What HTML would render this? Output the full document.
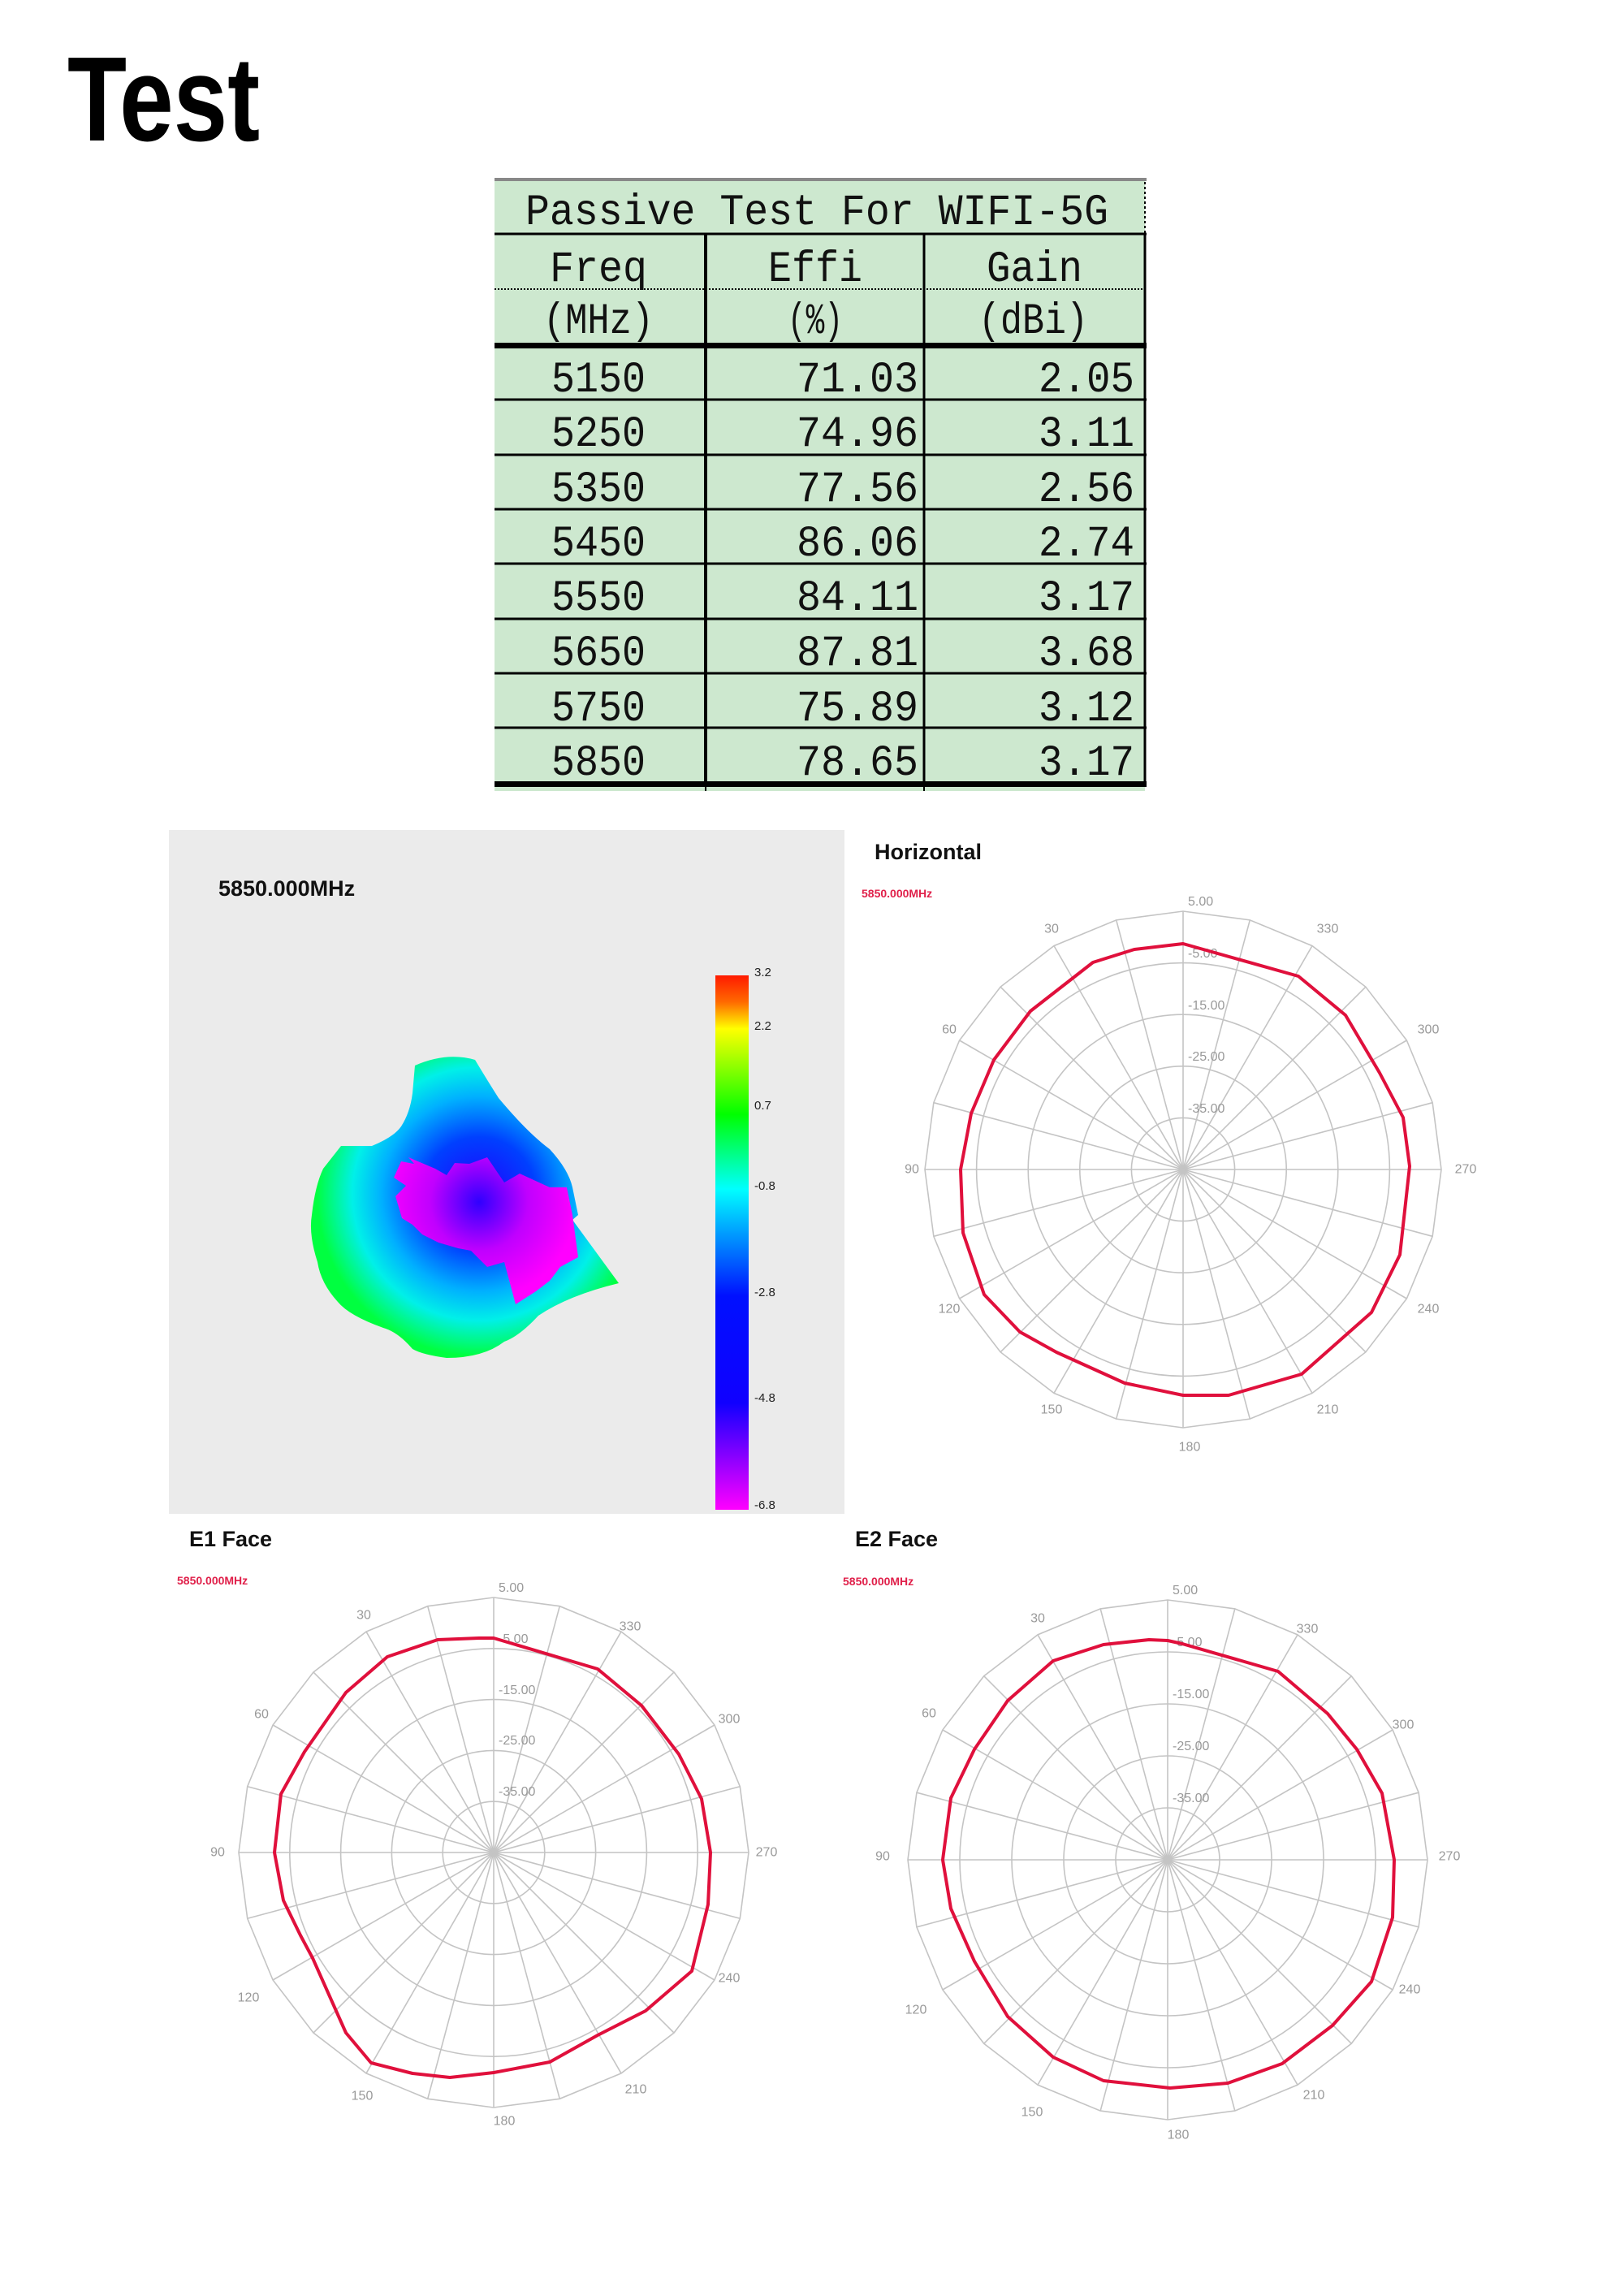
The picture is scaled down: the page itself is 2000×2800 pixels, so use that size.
<!DOCTYPE html>
<html><head><meta charset="utf-8"><style>
html,body{margin:0;padding:0;background:#fff;}
svg{display:block;}
.mono{font-family:"Liberation Mono",monospace;fill:#111;}
.ax{font-family:"Liberation Sans",sans-serif;font-size:16px;fill:#999;}
.ttl{font-family:"Liberation Sans",sans-serif;font-weight:bold;font-size:27px;fill:#111;}
.red{font-family:"Liberation Sans",sans-serif;font-weight:bold;font-size:14px;fill:#e0204a;}
.cb{font-family:"Liberation Sans",sans-serif;font-size:15px;fill:#222;}
.g *{vector-effect:non-scaling-stroke;}
</style></head><body>
<svg width="2000" height="2800" viewBox="0 0 2000 2800" xmlns="http://www.w3.org/2000/svg">
<defs>
<polygon id="ring" points="100,0 96.59,25.88 86.6,50 70.71,70.71 50,86.6 25.88,96.59 0,100 -25.88,96.59 -50,86.6 -70.71,70.71 -86.6,50 -96.59,25.88 -100,0 -96.59,-25.88 -86.6,-50 -70.71,-70.71 -50,-86.6 -25.88,-96.59 0,-100 25.88,-96.59 50,-86.6 70.71,-70.71 86.6,-50 96.59,-25.88"/>
<g id="grid" class="g" fill="none" stroke="#c4c4c4" stroke-width="1.6">
<polygon vector-effect="non-scaling-stroke" points="100,0 96.59,25.88 86.6,50 70.71,70.71 50,86.6 25.88,96.59 0,100 -25.88,96.59 -50,86.6 -70.71,70.71 -86.6,50 -96.59,25.88 -100,0 -96.59,-25.88 -86.6,-50 -70.71,-70.71 -50,-86.6 -25.88,-96.59 0,-100 25.88,-96.59 50,-86.6 70.71,-70.71 86.6,-50 96.59,-25.88"/>
<circle vector-effect="non-scaling-stroke" r="80"/>
<circle vector-effect="non-scaling-stroke" r="60"/>
<circle vector-effect="non-scaling-stroke" r="40"/>
<circle vector-effect="non-scaling-stroke" r="20"/>
<line vector-effect="non-scaling-stroke" x1="-100" y1="0" x2="100" y2="0"/>
<line vector-effect="non-scaling-stroke" x1="-100" y1="0" x2="100" y2="0" transform="rotate(15)"/>
<line vector-effect="non-scaling-stroke" x1="-100" y1="0" x2="100" y2="0" transform="rotate(30)"/>
<line vector-effect="non-scaling-stroke" x1="-100" y1="0" x2="100" y2="0" transform="rotate(45)"/>
<line vector-effect="non-scaling-stroke" x1="-100" y1="0" x2="100" y2="0" transform="rotate(60)"/>
<line vector-effect="non-scaling-stroke" x1="-100" y1="0" x2="100" y2="0" transform="rotate(75)"/>
<line vector-effect="non-scaling-stroke" x1="-100" y1="0" x2="100" y2="0" transform="rotate(90)"/>
<line vector-effect="non-scaling-stroke" x1="-100" y1="0" x2="100" y2="0" transform="rotate(105)"/>
<line vector-effect="non-scaling-stroke" x1="-100" y1="0" x2="100" y2="0" transform="rotate(120)"/>
<line vector-effect="non-scaling-stroke" x1="-100" y1="0" x2="100" y2="0" transform="rotate(135)"/>
<line vector-effect="non-scaling-stroke" x1="-100" y1="0" x2="100" y2="0" transform="rotate(150)"/>
<line vector-effect="non-scaling-stroke" x1="-100" y1="0" x2="100" y2="0" transform="rotate(165)"/>
</g>
<linearGradient id="cbar" x1="0" y1="0" x2="0" y2="1">
<stop offset="0" stop-color="#ff1a00"/>
<stop offset="0.05" stop-color="#ff6a00"/>
<stop offset="0.1" stop-color="#ffff00"/>
<stop offset="0.26" stop-color="#00ff00"/>
<stop offset="0.4" stop-color="#00ffff"/>
<stop offset="0.6" stop-color="#0010ff"/>
<stop offset="0.8" stop-color="#1000ff"/>
<stop offset="1" stop-color="#ff00ff"/>
</linearGradient>
<radialGradient id="blob" cx="590" cy="1470" r="200" gradientUnits="userSpaceOnUse">
<stop offset="0" stop-color="#2000ff"/>
<stop offset="0.35" stop-color="#0040ff"/>
<stop offset="0.6" stop-color="#00b0ff"/>
<stop offset="0.78" stop-color="#00f0e8"/>
<stop offset="1" stop-color="#00ff40"/>
</radialGradient>
<radialGradient id="mag" cx="590" cy="1480" r="120" gradientUnits="userSpaceOnUse">
<stop offset="0" stop-color="#3000ff"/>
<stop offset="0.5" stop-color="#c000ff"/>
<stop offset="1" stop-color="#ff00ff"/>
</radialGradient>
</defs>

<text x="83" y="173" font-family="Liberation Sans, sans-serif" font-weight="bold" font-size="148" textLength="237" lengthAdjust="spacingAndGlyphs" fill="#000">Test</text>

<rect x="609" y="220" width="801" height="754" fill="#cde8cf"/>
<line x1="609" y1="221" x2="1412" y2="221" stroke="#888" stroke-width="4"/>
<line x1="609" y1="288" x2="1412" y2="288" stroke="#000" stroke-width="3"/>
<line x1="609" y1="356" x2="1410" y2="356" stroke="#000" stroke-width="2" stroke-dasharray="2,2"/>
<rect x="609" y="422" width="803" height="7" fill="#000"/>
<g stroke="#000" stroke-width="3">
<line x1="609" y1="492" x2="1412" y2="492"/>
<line x1="609" y1="560" x2="1412" y2="560"/>
<line x1="609" y1="627" x2="1412" y2="627"/>
<line x1="609" y1="694" x2="1412" y2="694"/>
<line x1="609" y1="762" x2="1412" y2="762"/>
<line x1="609" y1="829" x2="1412" y2="829"/>
<line x1="609" y1="896" x2="1412" y2="896"/>
</g>
<rect x="609" y="962" width="803" height="7" fill="#000"/>
<line x1="869" y1="288" x2="869" y2="968" stroke="#000" stroke-width="4"/>
<line x1="1138" y1="288" x2="1138" y2="968" stroke="#000" stroke-width="3"/>
<line x1="1410" y1="288" x2="1410" y2="968" stroke="#000" stroke-width="3"/>
<line x1="1410" y1="224" x2="1410" y2="288" stroke="#000" stroke-width="2" stroke-dasharray="3,3"/>
<line x1="869" y1="969" x2="869" y2="974" stroke="#000" stroke-width="2"/>
<line x1="1138" y1="969" x2="1138" y2="974" stroke="#000" stroke-width="2"/>

<g class="mono" font-size="54">
<text x="647" y="276" textLength="718" lengthAdjust="spacingAndGlyphs">Passive Test For WIFI-5G</text>
<text x="677" y="346" textLength="120" lengthAdjust="spacingAndGlyphs">Freq</text>
<text x="946" y="346" textLength="116" lengthAdjust="spacingAndGlyphs">Effi</text>
<text x="1215" y="346" textLength="118" lengthAdjust="spacingAndGlyphs">Gain</text>
<text x="669" y="410" textLength="136" lengthAdjust="spacingAndGlyphs">(MHz)</text>
<text x="970" y="410" textLength="68" lengthAdjust="spacingAndGlyphs">(%)</text>
<text x="1205" y="410" textLength="135" lengthAdjust="spacingAndGlyphs">(dBi)</text>
<text x="679" y="482" textLength="116" lengthAdjust="spacingAndGlyphs">5150</text>
<text x="981" y="482" textLength="150" lengthAdjust="spacingAndGlyphs">71.03</text>
<text x="1279" y="482" textLength="118" lengthAdjust="spacingAndGlyphs">2.05</text>
<text x="679" y="549" textLength="116" lengthAdjust="spacingAndGlyphs">5250</text>
<text x="981" y="549" textLength="150" lengthAdjust="spacingAndGlyphs">74.96</text>
<text x="1279" y="549" textLength="118" lengthAdjust="spacingAndGlyphs">3.11</text>
<text x="679" y="617" textLength="116" lengthAdjust="spacingAndGlyphs">5350</text>
<text x="981" y="617" textLength="150" lengthAdjust="spacingAndGlyphs">77.56</text>
<text x="1279" y="617" textLength="118" lengthAdjust="spacingAndGlyphs">2.56</text>
<text x="679" y="684" textLength="116" lengthAdjust="spacingAndGlyphs">5450</text>
<text x="981" y="684" textLength="150" lengthAdjust="spacingAndGlyphs">86.06</text>
<text x="1279" y="684" textLength="118" lengthAdjust="spacingAndGlyphs">2.74</text>
<text x="679" y="751" textLength="116" lengthAdjust="spacingAndGlyphs">5550</text>
<text x="981" y="751" textLength="150" lengthAdjust="spacingAndGlyphs">84.11</text>
<text x="1279" y="751" textLength="118" lengthAdjust="spacingAndGlyphs">3.17</text>
<text x="679" y="819" textLength="116" lengthAdjust="spacingAndGlyphs">5650</text>
<text x="981" y="819" textLength="150" lengthAdjust="spacingAndGlyphs">87.81</text>
<text x="1279" y="819" textLength="118" lengthAdjust="spacingAndGlyphs">3.68</text>
<text x="679" y="887" textLength="116" lengthAdjust="spacingAndGlyphs">5750</text>
<text x="981" y="887" textLength="150" lengthAdjust="spacingAndGlyphs">75.89</text>
<text x="1279" y="887" textLength="118" lengthAdjust="spacingAndGlyphs">3.12</text>
<text x="679" y="954" textLength="116" lengthAdjust="spacingAndGlyphs">5850</text>
<text x="981" y="954" textLength="150" lengthAdjust="spacingAndGlyphs">78.65</text>
<text x="1279" y="954" textLength="118" lengthAdjust="spacingAndGlyphs">3.17</text>
</g>

<rect x="208" y="1022" width="832" height="842" fill="#ebebeb"/>
<text x="269" y="1103" class="ttl" font-size="26">5850.000MHz</text>
<rect x="881" y="1201" width="41" height="658" fill="url(#cbar)"/>
<g class="cb">
<text x="929" y="1202">3.2</text>
<text x="929" y="1268">2.2</text>
<text x="929" y="1366">0.7</text>
<text x="929" y="1465">-0.8</text>
<text x="929" y="1596">-2.8</text>
<text x="929" y="1726">-4.8</text>
<text x="929" y="1858">-6.8</text>
</g>
<path fill="url(#blob)" d="M511,1312 Q550,1295 585,1305 Q600,1330 614,1352 Q650,1395 677,1415 Q700,1440 705,1462 L712,1496 L705,1502 L762,1580 Q700,1595 663,1620 Q640,1645 621,1652 Q595,1672 550,1672 Q520,1668 508,1661 Q490,1640 472,1635 Q430,1620 416,1603 Q395,1580 391,1554 Q380,1520 384,1496 Q388,1460 398,1439 L420,1411 L458,1411 Q485,1400 494,1387 Q505,1370 508,1346 Z"/>
<polygon fill="url(#mag)" points="494,1430 510,1433 503,1425 536,1439 550,1447 560,1432 578,1433 600,1425 621,1456 640,1445 677,1462 698,1462 705,1496 712,1548 690,1560 677,1577 660,1590 635,1606 628,1580 621,1554 600,1560 580,1540 564,1537 540,1530 520,1520 508,1508 495,1500 487,1473 500,1460 485,1450"/>

<text x="1077" y="1058" class="ttl">Horizontal</text>
<text x="1061" y="1105" class="red">5850.000MHz</text>
<g transform="translate(1457,1440)">
<use href="#grid" transform="scale(3.18)"/>
<g class="ax">
<text x="6" y="-325">5.00</text><text x="6" y="-261">-5.00</text><text x="6" y="-197">-15.00</text><text x="6" y="-134">-25.00</text><text x="6" y="-70">-35.00</text>
<g text-anchor="middle" dominant-baseline="central">
<text x="-162" y="-296">30</text><text x="-288" y="-172">60</text><text x="-334" y="0">90</text><text x="-288" y="172">120</text><text x="-162" y="296">150</text><text x="8" y="342">180</text><text x="178" y="296">210</text><text x="302" y="172">240</text><text x="348" y="0">270</text><text x="302" y="-172">300</text><text x="178" y="-296">330</text>
</g></g>
<polygon fill="none" stroke="#e0103c" stroke-width="4" stroke-linejoin="round" points="0,-278 142,-238 200,-190 242,-119 271,-64 279,-4 267,105 232,176 146,252 56,278 0,278 -72,263 -156,225 -201,200 -245,154 -271,78 -274,0 -261,-69 -233,-135 -188,-195 -111,-255 -60,-271"/>
</g>

<text x="233" y="1904" class="ttl">E1 Face</text>
<text x="218" y="1951" class="red">5850.000MHz</text>
<g transform="translate(608,2281)">
<use href="#grid" transform="scale(3.14)"/>
<g class="ax">
<text x="6" y="-321">5.00</text><text x="6" y="-258">-5.00</text><text x="6" y="-195">-15.00</text><text x="6" y="-133">-25.00</text><text x="6" y="-70">-35.00</text>
<g text-anchor="middle" dominant-baseline="central">
<text x="-160" y="-292">30</text><text x="-286" y="-170">60</text><text x="-340" y="0">90</text><text x="-302" y="179">120</text><text x="-162" y="300">150</text><text x="13" y="331">180</text><text x="175" y="292">210</text><text x="290" y="155">240</text><text x="336" y="0">270</text><text x="290" y="-164">300</text><text x="168" y="-278">330</text>
</g></g>
<polygon fill="none" stroke="#e0103c" stroke-width="4" stroke-linejoin="round" points="0,-264 128,-226 182,-181 228,-121 256,-66 267,0 264,64 244,146 187,195 128,225 69,258 0,271 -54,277 -100,272 -151,259 -182,222 -223,130 -238,102 -259,59 -270,0 -262,-72 -233,-124 -182,-197 -131,-241 -69,-262 -18,-264"/>
</g>

<text x="1053" y="1904" class="ttl">E2 Face</text>
<text x="1038" y="1952" class="red">5850.000MHz</text>
<g transform="translate(1438,2290)">
<use href="#grid" transform="scale(3.2)"/>
<g class="ax">
<text x="6" y="-327">5.00</text><text x="6" y="-263">-5.00</text><text x="6" y="-199">-15.00</text><text x="6" y="-135">-25.00</text><text x="6" y="-71">-35.00</text>
<g text-anchor="middle" dominant-baseline="central">
<text x="-160" y="-297">30</text><text x="-294" y="-180">60</text><text x="-351" y="-4">90</text><text x="-310" y="185">120</text><text x="-167" y="311">150</text><text x="13" y="339">180</text><text x="180" y="290">210</text><text x="298" y="160">240</text><text x="347" y="-4">270</text><text x="290" y="-166">300</text><text x="172" y="-284">330</text>
</g></g>
<polygon fill="none" stroke="#e0103c" stroke-width="4" stroke-linejoin="round" points="0,-270 18,-266 136,-232 197,-180 233,-136 264,-82 279,0 277,71 251,150 203,204 141,251 74,275 3,281 -79,272 -141,243 -197,193 -238,125 -267,60 -277,0 -267,-76 -238,-136 -197,-196 -141,-245 -79,-265 -23,-271"/>
</g>
</svg>
</body></html>
